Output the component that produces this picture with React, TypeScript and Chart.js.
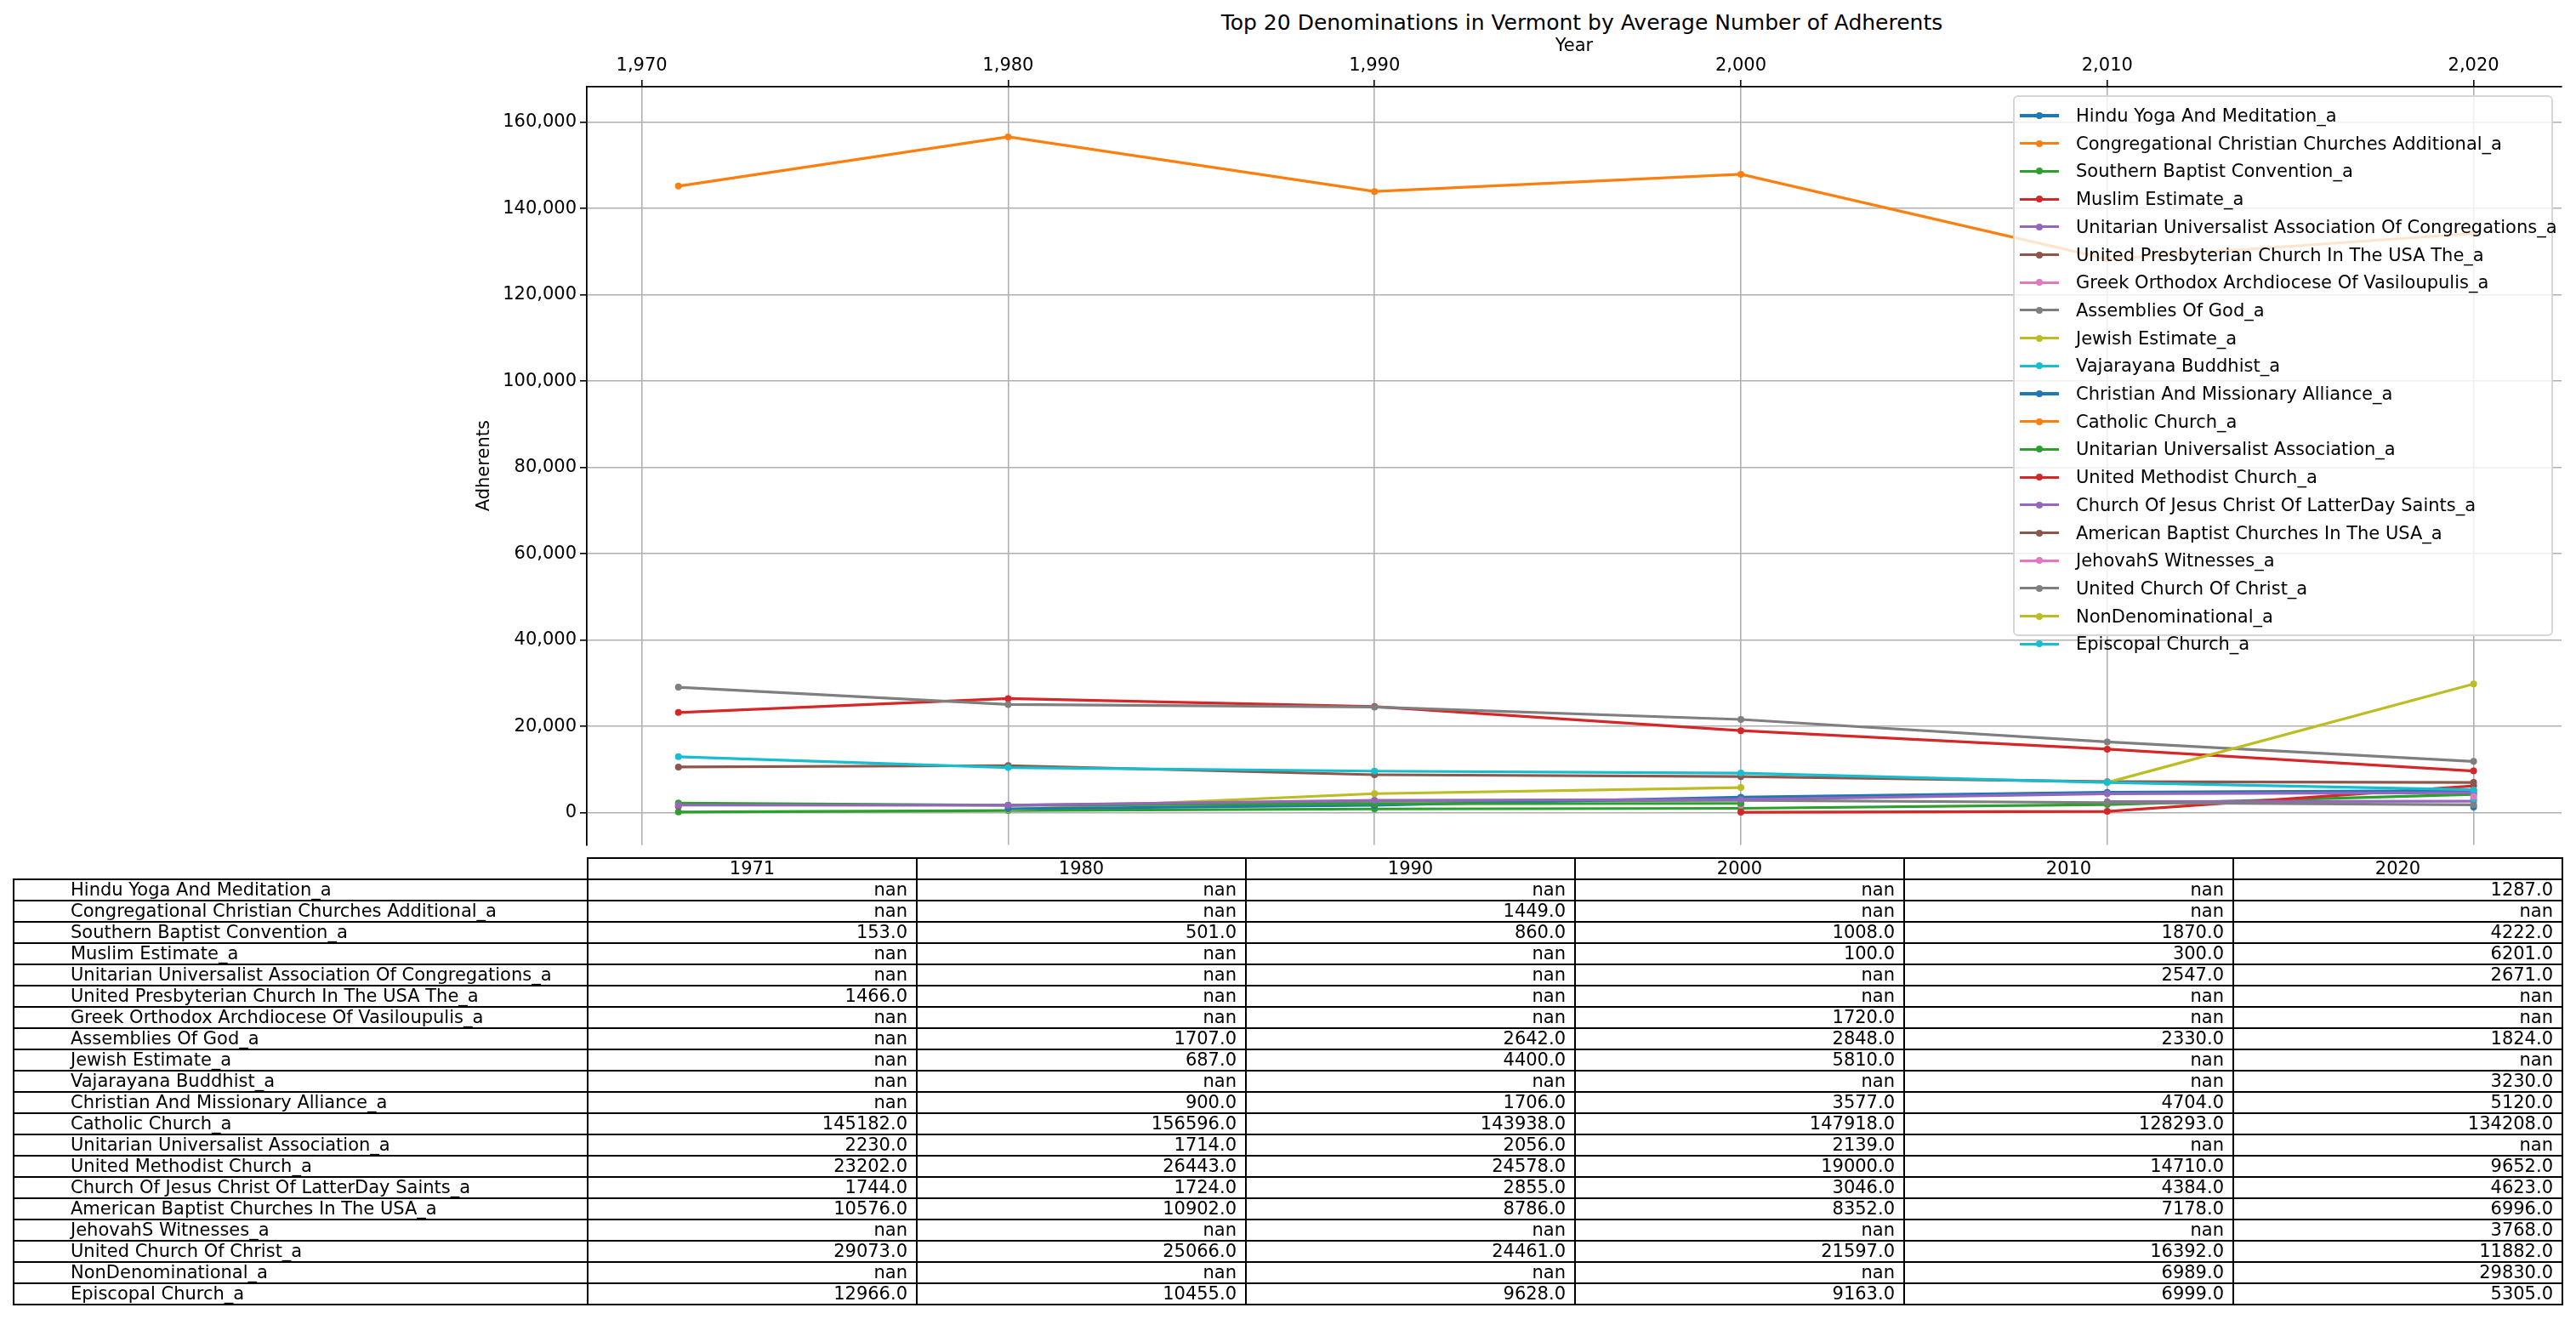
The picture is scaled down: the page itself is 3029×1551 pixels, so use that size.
import { Chart, registerables } from "chart.js";
import { useEffect, useRef } from "react";

Chart.register(...registerables);

const years = [1971, 1980, 1990, 2000, 2010, 2020];
const xTicks = [1970, 1980, 1990, 2000, 2010, 2020];
const yTicks = [0, 20000, 40000, 60000, 80000, 100000, 120000, 140000, 160000];

const names = [
  "Hindu Yoga And Meditation_a",
  "Congregational Christian Churches Additional_a",
  "Southern Baptist Convention_a",
  "Muslim Estimate_a",
  "Unitarian Universalist Association Of Congregations_a",
  "United Presbyterian Church In The USA The_a",
  "Greek Orthodox Archdiocese Of Vasiloupulis_a",
  "Assemblies Of God_a",
  "Jewish Estimate_a",
  "Vajarayana Buddhist_a",
  "Christian And Missionary Alliance_a",
  "Catholic Church_a",
  "Unitarian Universalist Association_a",
  "United Methodist Church_a",
  "Church Of Jesus Christ Of LatterDay Saints_a",
  "American Baptist Churches In The USA_a",
  "JehovahS Witnesses_a",
  "United Church Of Christ_a",
  "NonDenominational_a",
  "Episcopal Church_a",
];

const hindu = [null, null, null, null, null, 1287];
const congregational = [null, null, 1449, null, null, null];
const southernBaptist = [153, 501, 860, 1008, 1870, 4222];
const muslim = [null, null, null, 100, 300, 6201];
const uuaCongregations = [null, null, null, null, 2547, 2671];
const presbyterian = [1466, null, null, null, null, null];
const greekOrthodox = [null, null, null, 1720, null, null];
const assemblies = [null, 1707, 2642, 2848, 2330, 1824];
const jewish = [null, 687, 4400, 5810, null, null];
const buddhist = [null, null, null, null, null, 3230];
const missionary = [null, 900, 1706, 3577, 4704, 5120];
const catholic = [145182, 156596, 143938, 147918, 128293, 134208];
const uua = [2230, 1714, 2056, 2139, null, null];
const methodist = [23202, 26443, 24578, 19000, 14710, 9652];
const lds = [1744, 1724, 2855, 3046, 4384, 4623];
const americanBaptist = [10576, 10902, 8786, 8352, 7178, 6996];
const jehovah = [null, null, null, null, null, 3768];
const ucc = [29073, 25066, 24461, 21597, 16392, 11882];
const nonDenom = [null, null, null, null, 6989, 29830];
const episcopal = [12966, 10455, 9628, 9163, 6999, 5305];

const series: (number | null)[][] = [
  hindu, congregational, southernBaptist, muslim, uuaCongregations, presbyterian,
  greekOrthodox, assemblies, jewish, buddhist, missionary, catholic, uua, methodist,
  lds, americanBaptist, jehovah, ucc, nonDenom, episcopal,
];

const tab10 = ["#1f77b4", "#ff7f0e", "#2ca02c", "#d62728", "#9467bd", "#8c564b", "#e377c2", "#7f7f7f", "#bcbd22", "#17becf"];
const font = "'DejaVu Sans', sans-serif";

function App() {
  const chartRef = useRef<HTMLCanvasElement | null>(null);
  useEffect(() => {
    const ctx = chartRef.current?.getContext("2d");
    if (!ctx) return;
    const chart = new Chart(ctx, {
      type: "line",
      data: {
        datasets: series.map((vals, i) => ({
          label: names[i],
          data: years.map((y, j) => ({ x: y, y: vals[j] })),
          borderColor: tab10[i % 10],
          backgroundColor: tab10[i % 10],
          borderWidth: 3.2,
          pointRadius: 4,
          pointBorderWidth: 0,
          spanGaps: false,
          order: 20 - i,
        })),
      },
      options: {
        animation: false,
        responsive: false,
        devicePixelRatio: 1,
        layout: { padding: { left: 553, right: 17, top: 38, bottom: 2 } },
        plugins: { legend: { display: false }, tooltip: { enabled: false } },
        scales: {
          x: {
            type: "linear",
            position: "top",
            min: 1968.5,
            max: 2022.4,
            afterBuildTicks: (s) => { s.ticks = xTicks.map((v) => ({ value: v })); },
            afterFit: (s) => { s.height = 64; },
            ticks: { color: "#000", font: { family: font, size: 21 }, padding: 4 },
            grid: { color: "#b0b0b0", lineWidth: 1.6, tickLength: 8, tickColor: "#000" },
            border: { color: "#000", width: 1.8 },
            title: { display: true, text: "Year", color: "#000", font: { family: font, size: 21 }, padding: { top: 4, bottom: 2 } },
          },
          y: {
            min: -7450,
            max: 168200,
            afterBuildTicks: (s) => { s.ticks = yTicks.map((v) => ({ value: v })); },
            afterFit: (s) => { s.width = 137; },
            ticks: { color: "#000", font: { family: font, size: 21 }, padding: 4, callback: (v) => Number(v).toLocaleString("en-US") },
            grid: { color: "#b0b0b0", lineWidth: 1.6, tickLength: 8, tickColor: "#000" },
            border: { color: "#000", width: 1.8 },
            title: { display: true, text: "Adherents", color: "#000", font: { family: font, size: 21 }, padding: 4 },
          },
        },
      },
    });
    return () => chart.destroy();
  }, []);

  const cell = { border: "2px solid #000", padding: "0 10px", height: 23, fontSize: 21, lineHeight: "23px" } as const;
  return (
    <div style={{ position: "absolute", left: 0, top: 0, width: 3029, height: 1551, background: "#fff", fontFamily: font, color: "#000" }}>
      <div style={{ position: "absolute", top: 12, width: 1920, left: 900, textAlign: "center", fontSize: 25 }}>
        Top 20 Denominations in Vermont by Average Number of Adherents
      </div>
      <canvas ref={chartRef} width={3029} height={1010} style={{ position: "absolute", left: 0, top: 0 }} />
      <div style={{ position: "absolute", left: 2367, top: 112, width: 635, height: 636, background: "rgba(255,255,255,0.8)", border: "2px solid #d6d6d6", borderRadius: 6, boxSizing: "border-box" }}>
        {names.map((n, i) => (
          <div key={n} style={{ position: "absolute", left: 6, top: 7 + i * 32.7, height: 30, display: "flex", alignItems: "center", fontSize: 21, whiteSpace: "nowrap" }}>
            <div style={{ position: "relative", width: 46, height: 3.2, background: tab10[i % 10], marginRight: 20 }}>
              <div style={{ position: "absolute", left: 19, top: -2.4, width: 8, height: 8, borderRadius: 4, background: tab10[i % 10] }} />
            </div>
            {n}
          </div>
        ))}
      </div>
      <table style={{ position: "absolute", left: 15, top: 1008, width: 2997, borderCollapse: "collapse", tableLayout: "fixed", fontFamily: font }}>
        <colgroup>
          <col style={{ width: 675 }} />
          {years.map((y) => <col key={y} style={{ width: 387 }} />)}
        </colgroup>
        <tbody>
          <tr>
            <td style={{ ...cell, border: "none", borderBottom: "2px solid #000" }} />
            {years.map((y) => <td key={y} style={{ ...cell, textAlign: "center" }}>{y}</td>)}
          </tr>
          {names.map((n, i) => (
            <tr key={n}>
              <td style={{ ...cell, paddingLeft: 66 }}>{n}</td>
              {series[i].map((v, j) => (
                <td key={j} style={{ ...cell, textAlign: "right" }}>{v === null ? "nan" : v.toFixed(1)}</td>
              ))}
            </tr>
          ))}
        </tbody>
      </table>
    </div>
  );
}

export default App;
